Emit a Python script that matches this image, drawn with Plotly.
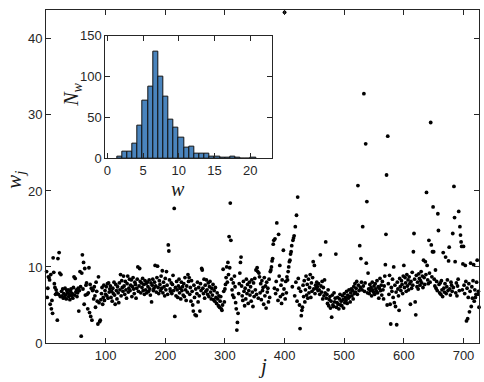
import numpy as np
import plotly.graph_objects as go

# ---- main scatter data: w_j for j = 1..N (blocks of 10) ----
w_values = [
    9.4, 6.0, 7.2, 8.7, 8.6, 8.3, 5.1, 9.0, 4.5, 5.6,
    3.9, 11.2, 9.3, 7.8, 7.3, 6.4, 7.0, 6.6, 3.0, 11.1,
    6.4, 11.9, 9.2, 6.1, 9.0, 6.8, 6.2, 7.1, 5.9, 6.5,
    6.0, 7.2, 6.3, 5.8, 6.9, 6.6, 7.0, 6.1, 6.4, 5.7,
    6.8, 7.1, 6.2, 6.5, 5.9, 7.3, 8.7, 6.3, 8.5, 6.7,
    7.0, 6.1, 6.6, 7.2, 4.2, 6.9, 9.4, 7.4, 0.9, 9.2,
    11.6, 7.1, 10.6, 5.1, 9.8, 6.3, 7.6, 7.9, 6.4, 4.5,
    6.6, 9.9, 4.0, 7.7, 3.5, 7.2, 3.0, 6.9, 7.0, 5.8,
    7.4, 6.2, 4.7, 8.0, 6.8, 5.5, 2.5, 8.7, 5.3, 2.8,
    3.0, 5.7, 6.5, 7.3, 5.1, 6.0, 7.6, 5.6, 6.9, 6.4,
    7.4, 6.2, 7.8, 5.9, 7.9, 6.7, 7.1, 7.5, 6.0, 6.8,
    5.5, 7.2, 6.5, 8.0, 6.3, 5.1, 7.7, 6.9, 5.8, 7.4,
    6.6, 5.3, 7.9, 7.0, 9.0, 6.2, 8.2, 7.3, 6.8, 8.8,
    7.5, 6.4, 8.1, 7.0, 5.9, 7.8, 8.8, 6.7, 7.2, 8.4,
    6.9, 7.6, 8.3, 6.1, 7.4, 8.6, 7.1, 6.5, 8.0, 7.7,
    5.9, 7.2, 8.4, 10.0, 6.8, 7.5, 9.8, 8.1, 6.6, 7.9,
    7.3, 8.5, 6.9, 7.7, 6.4, 8.2, 7.0, 7.8, 6.6, 8.0,
    7.4, 6.8, 8.3, 7.1, 6.3, 7.9, 5.4, 7.6, 8.4, 6.9,
    7.2, 8.0, 10.2, 7.5, 6.7, 8.6, 10.1, 7.3, 6.5, 8.2,
    7.7, 6.9, 8.8, 7.2, 9.5, 6.6, 8.0, 7.4, 6.2, 8.5,
    7.0, 9.4, 7.6, 6.4, 12.9, 12.1, 8.3, 7.1, 6.8, 7.9,
    6.5, 7.7, 8.9, 6.9, 17.7, 3.5, 7.3, 6.2, 8.1, 7.0,
    6.0, 7.5, 8.4, 6.6, 7.2, 5.8, 8.0, 6.9, 7.4, 6.3,
    7.8, 6.1, 8.6, 7.0, 5.6, 7.5, 6.7, 9.0, 8.1, 8.6,
    6.4, 7.3, 5.5, 8.2, 6.8, 5.0, 4.2, 7.6, 6.0, 3.7,
    7.1, 3.6, 6.5, 8.0, 5.4, 7.3, 6.2, 4.2, 7.8, 6.9,
    9.8, 9.6, 7.2, 6.5, 8.4, 5.9, 7.6, 6.8, 8.3, 7.0,
    6.4, 7.9, 6.1, 7.4, 8.1, 6.7, 5.8, 7.2, 6.3, 7.7,
    5.7, 6.9, 5.5, 7.3, 6.0, 5.2, 6.6, 5.8, 4.9, 6.2,
    4.7, 5.5, 6.1, 4.5, 4.3, 5.0, 9.7, 6.8, 5.4, 7.1,
    7.7, 8.6, 10.0, 8.0, 10.6, 9.0, 14.0, 9.9, 18.4, 13.5,
    8.4, 7.0, 6.3, 7.9, 6.0, 8.8, 7.4, 5.3, 4.5, 1.7,
    2.7, 3.9, 6.5, 7.8, 9.2, 10.6, 11.3, 7.5, 6.2, 5.6,
    8.1, 6.8, 4.9, 7.2, 5.8, 8.4, 6.5, 7.7, 5.2, 6.9,
    8.0, 6.3, 7.4, 5.5, 8.3, 6.7, 4.8, 7.9, 6.1, 8.5,
    7.0, 9.6, 6.4, 9.9, 9.4, 5.9, 9.2, 8.7, 6.6, 7.8,
    5.7, 8.2, 6.9, 7.3, 5.1, 8.6, 6.2, 7.5, 4.6, 8.0,
    6.7, 7.2, 5.4, 8.4, 6.0, 9.4, 9.6, 10.0, 10.8, 11.1,
    13.0, 13.5, 7.2, 13.7, 6.5, 8.1, 15.8, 7.0, 5.6, 14.3,
    8.8, 10.2, 6.1, 7.6, 5.2, 8.3, 6.4, 12.2, 7.1, 43.5,
    5.8, 8.1, 6.6, 8.7, 8.3, 9.4, 10.0, 10.7, 10.9, 11.7,
    12.0, 12.8, 7.4, 13.5, 13.8, 14.1, 6.2, 15.3, 8.0, 16.8,
    5.5, 19.2, 8.5, 7.2, 5.0, 1.9, 6.8, 3.6, 4.3, 4.7,
    7.6, 6.1, 8.2, 5.4, 7.0, 8.8, 6.3, 7.7, 5.9, 8.4,
    6.6, 7.3, 9.0, 6.0, 7.9, 6.8, 8.6, 10.7, 7.1, 10.2,
    6.5, 7.6, 7.2, 8.0, 7.4, 6.9, 7.8, 7.0, 6.4, 11.6,
    7.5, 6.7, 8.1, 5.8, 7.3, 6.2, 8.3, 6.6, 13.3, 5.9,
    6.4, 5.2, 7.0, 4.9, 5.7, 6.1, 4.6, 5.5, 3.4, 6.3,
    5.0, 4.8, 6.6, 5.4, 5.9, 11.7, 4.7, 5.3, 6.0, 5.1,
    4.5, 5.8, 6.4, 5.0, 5.5, 4.9, 6.2, 5.7, 4.6, 6.5,
    5.3, 6.0, 5.6, 6.8, 5.2, 6.3, 5.9, 7.0, 6.1, 5.4,
    6.6, 7.1, 6.2, 6.9, 5.8, 7.4, 6.5, 7.8, 6.7, 7.2,
    8.1, 6.4, 20.7, 7.6, 6.9, 12.8, 7.3, 11.1, 8.0, 7.0,
    15.3, 7.5, 32.8, 6.8, 7.9, 26.2, 10.5, 18.6, 6.6, 9.2,
    7.1, 6.5, 7.7, 6.9, 7.3, 6.2, 8.0, 7.0, 6.7, 7.5,
    6.4, 7.8, 7.1, 6.8, 8.2, 6.6, 7.4, 5.9, 7.2, 8.5,
    6.9, 7.6, 6.3, 8.1, 7.0, 5.8, 7.5, 8.8, 10.3, 14.3,
    22.1, 5.0, 27.2, 7.8, 6.4, 8.9, 5.1, 2.5, 7.3, 6.8,
    8.4, 6.0, 10.0, 5.3, 7.6, 4.8, 6.7, 2.4, 8.0, 7.1,
    6.2, 4.3, 8.5, 7.4, 6.9, 8.2, 7.7, 6.5, 8.8, 10.2,
    7.3, 8.6, 7.9, 6.8, 9.0, 7.5, 8.3, 7.0, 8.7, 7.8,
    5.1, 8.1, 7.2, 9.3, 7.6, 12.0, 14.4, 8.4, 5.4, 3.7,
    8.9, 7.4, 8.0, 7.1, 9.1, 8.5, 7.6, 8.2, 9.4, 7.9,
    8.8, 7.3, 10.9, 8.6, 7.7, 10.7, 9.0, 19.8, 10.2, 8.3,
    7.8, 13.5, 9.2, 8.0, 29.0, 12.9, 8.7, 12.0, 17.9, 12.0,
    8.4, 7.5, 9.6, 7.2, 8.1, 6.9, 17.0, 14.8, 7.7, 6.6,
    7.9, 6.4, 8.2, 7.0, 6.1, 11.9, 7.2, 6.7, 7.8, 11.3,
    6.5, 7.4, 8.3, 6.9, 10.8, 12.6, 7.1, 6.3, 8.0, 7.6,
    6.8, 14.4, 7.3, 20.6, 16.5, 10.7, 6.6, 7.9, 6.2, 7.5,
    8.4, 17.3, 6.9, 15.3, 14.2, 13.3, 12.7, 7.0, 10.4, 12.7,
    7.6, 6.5, 10.2, 8.1, 2.9, 7.2, 3.2, 6.0, 7.8, 4.1,
    6.8, 10.5, 4.8, 7.4, 5.9, 8.2, 10.3, 5.5, 7.0, 6.0,
    6.4, 8.0, 10.9, 6.4, 6.8, 4.7,
]
j_index = list(range(1, len(w_values) + 1))

main_x_ticks = [100, 200, 300, 400, 500, 600, 700]
main_y_ticks = [0, 10, 20, 30, 40]

# ---- inset histogram (bar heights) ----
hist_bin_start = 1.35
hist_bin_width = 0.72
hist_counts = [2, 8, 8, 18, 40, 71, 87, 131, 100, 75, 47, 37, 25, 13, 14,
               6, 6, 6, 2, 2, 1, 1, 2, 1, 0, 0, 1]
hist_centers = [hist_bin_start + hist_bin_width * (k + 0.5) for k in range(len(hist_counts))]

inset_x_ticks = [0, 5, 10, 15, 20]
inset_y_ticks = [0, 50, 100, 150]

fig = go.Figure()

fig.add_trace(go.Scatter(
    x=j_index, y=w_values, mode="markers",
    marker=dict(color="black", size=3.8),
    xaxis="x", yaxis="y", showlegend=False, hoverinfo="skip",
    cliponaxis=False,
))

fig.add_trace(go.Bar(
    x=hist_centers, y=hist_counts, width=hist_bin_width,
    marker=dict(color="#4a84bd", line=dict(color="#111111", width=1)),
    xaxis="x2", yaxis="y2", showlegend=False, hoverinfo="skip",
))

tick_font = dict(family="Liberation Sans, Arial, sans-serif", size=13, color="#262626")
axis_common = dict(
    showgrid=False, zeroline=False, showline=True, linecolor="#262626", linewidth=1,
    mirror="ticks", ticks="inside", ticklen=5, tickcolor="#262626", tickwidth=1,
    tickfont=tick_font,
)

fig.update_layout(
    width=484, height=382,
    margin=dict(l=46, r=5, t=3, b=39, pad=0),
    paper_bgcolor="white", plot_bgcolor="white",
    bargap=0,
    xaxis=dict(domain=[0, 1], range=[0, 726], tickvals=main_x_ticks, **axis_common),
    yaxis=dict(domain=[0, 1], range=[0, 43.8], tickvals=main_y_ticks, **axis_common),
    xaxis2=dict(domain=[0.137, 0.521], range=[-0.3, 23], tickvals=inset_x_ticks,
                anchor="y2", **axis_common),
    yaxis2=dict(domain=[0.555, 0.923], range=[0, 150], tickvals=inset_y_ticks,
                anchor="x2", **axis_common),
)

label_font = dict(family="Liberation Serif, Times New Roman, serif", size=21, color="#1a1a1a")
inset_label_font = dict(family="Liberation Serif, Times New Roman, serif", size=20, color="#1a1a1a")
fig.add_annotation(text="<i>w<sub>j</sub></i>", xref="paper", yref="paper",
                   x=-0.072, y=0.49, textangle=-90, showarrow=False,
                   xanchor="center", yanchor="middle", font=label_font)
fig.add_annotation(text="<i>j</i>", xref="paper", yref="paper",
                   x=0.499, y=-0.07, showarrow=False,
                   xanchor="center", yanchor="middle", font=label_font)
fig.add_annotation(text="<i>N<sub>w</sub></i>", xref="paper", yref="paper",
                   x=0.062, y=0.745, textangle=-90, showarrow=False,
                   xanchor="center", yanchor="middle", font=inset_label_font)
fig.add_annotation(text="<i>w</i>", xref="paper", yref="paper",
                   x=0.305, y=0.5, showarrow=False,
                   xanchor="center", yanchor="top", borderpad=0, font=inset_label_font)

fig.write_html(
    "out.html",
    config={"displayModeBar": False},
    post_script="document.body.style.margin='0';document.body.style.overflow='hidden';",
)
